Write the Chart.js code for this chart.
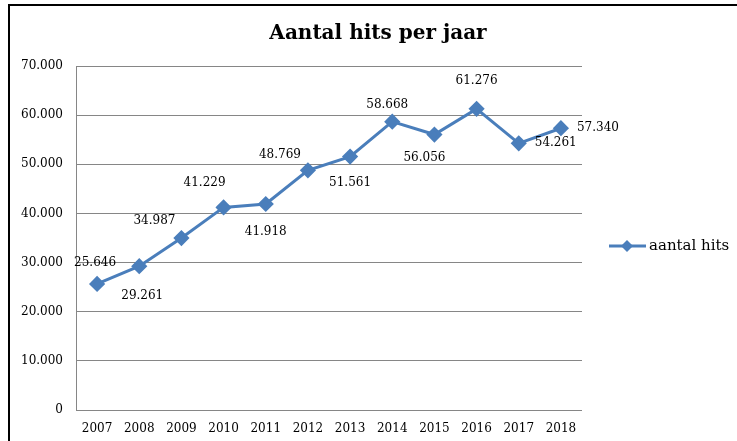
<!DOCTYPE html>
<html>
<head>
<meta charset="utf-8">
<script src="https://cdn.jsdelivr.net/npm/chart.js@4"></script>
<style>
  body { margin: 0; background: #fff; }
  canvas { display: block; }
</style>
</head>
<body>
<canvas id="chart" width="737" height="441"></canvas>
<script>
const years = ["2007", "2008", "2009", "2010", "2011", "2012", "2013", "2014", "2015", "2016", "2017", "2018"];
const hits = [25646, 29261, 34987, 41229, 41918, 48769, 51561, 58668, 56056, 61276, 54261, 57340];
const seriesName = "aantal hits";
const chartTitle = "Aantal hits per jaar";

// where each value label sits relative to its point (px)
const labelOffsets = [[-2, -21], [3, 30], [-27, -17], [-19, -25], [0, 28], [-28, -15],
                      [0, 26], [-5, -17], [-10, 23], [0, -28], [37, 0], [37, 0]];

const blue = "#4a7ebb";
const font = "'DejaVu Serif', serif";

function fmt(v) { return String(v).replace(/\B(?=(\d{3})+(?!\d))/g, "."); }

const extras = {
    id: "extras",
    beforeDraw(chart) {
        const ctx = chart.ctx;
        ctx.save();
        ctx.fillStyle = "#fff";
        ctx.fillRect(0, 0, chart.width, chart.height);
        ctx.strokeStyle = "#000";
        ctx.lineWidth = 2;
        ctx.strokeRect(9, 5, 900, 600);
        ctx.restore();
    },
    afterDatasetsDraw(chart) {
        const ctx = chart.ctx;
        const pts = chart.getDatasetMeta(0).data;
        ctx.save();
        ctx.font = "12px " + font;
        ctx.fillStyle = "#000";
        ctx.textAlign = "center";
        ctx.textBaseline = "middle";
        pts.forEach((p, i) => {
            const o = labelOffsets[i];
            ctx.fillText(fmt(hits[i]), p.x + o[0], p.y + o[1]);
        });
        ctx.restore();
    },
    afterDraw(chart) {
        const ctx = chart.ctx;
        ctx.save();
        // title
        ctx.font = "bold 20px " + font;
        ctx.fillStyle = "#000";
        ctx.textAlign = "center";
        ctx.textBaseline = "middle";
        ctx.fillText(chartTitle, 378, 34);
        // legend
        const ly = 246;
        ctx.strokeStyle = blue;
        ctx.lineWidth = 3;
        ctx.beginPath();
        ctx.moveTo(609, ly);
        ctx.lineTo(646, ly);
        ctx.stroke();
        ctx.fillStyle = blue;
        ctx.beginPath();
        ctx.moveTo(627, ly - 6);
        ctx.lineTo(633, ly);
        ctx.lineTo(627, ly + 6);
        ctx.lineTo(621, ly);
        ctx.closePath();
        ctx.fill();
        ctx.font = "15px " + font;
        ctx.fillStyle = "#000";
        ctx.textAlign = "left";
        ctx.fillText(seriesName, 649, ly);
        ctx.restore();
    }
};

new Chart(document.getElementById("chart").getContext("2d"), {
    type: "line",
    data: {
        labels: years,
        datasets: [{
            label: seriesName,
            data: hits,
            borderColor: blue,
            backgroundColor: blue,
            borderWidth: 3,
            pointStyle: "rectRot",
            pointRadius: 6,
            pointBackgroundColor: blue,
            pointBorderColor: blue,
            tension: 0
        }]
    },
    options: {
        responsive: false,
        animation: false,
        layout: { padding: { top: 66, left: 0, right: 155, bottom: 0 } },
        plugins: { legend: { display: false }, title: { display: false }, tooltip: { enabled: false } },
        scales: {
            x: {
                offset: true,
                grid: { display: false },
                border: { display: false },
                ticks: { color: "#000", font: { family: font, size: 12 }, padding: 4, maxRotation: 0 },
                afterFit: s => { s.height = 31; }
            },
            y: {
                min: 0, max: 70000,
                grid: { color: "#868686", lineWidth: 1, drawTicks: false },
                border: { display: true, color: "#868686", width: 1 },
                ticks: { stepSize: 10000, color: "#000", font: { family: font, size: 12 }, padding: 13, callback: v => fmt(v) },
                afterFit: s => { s.width = 76; }
            }
        }
    },
    plugins: [extras]
});
</script>
</body>
</html>
